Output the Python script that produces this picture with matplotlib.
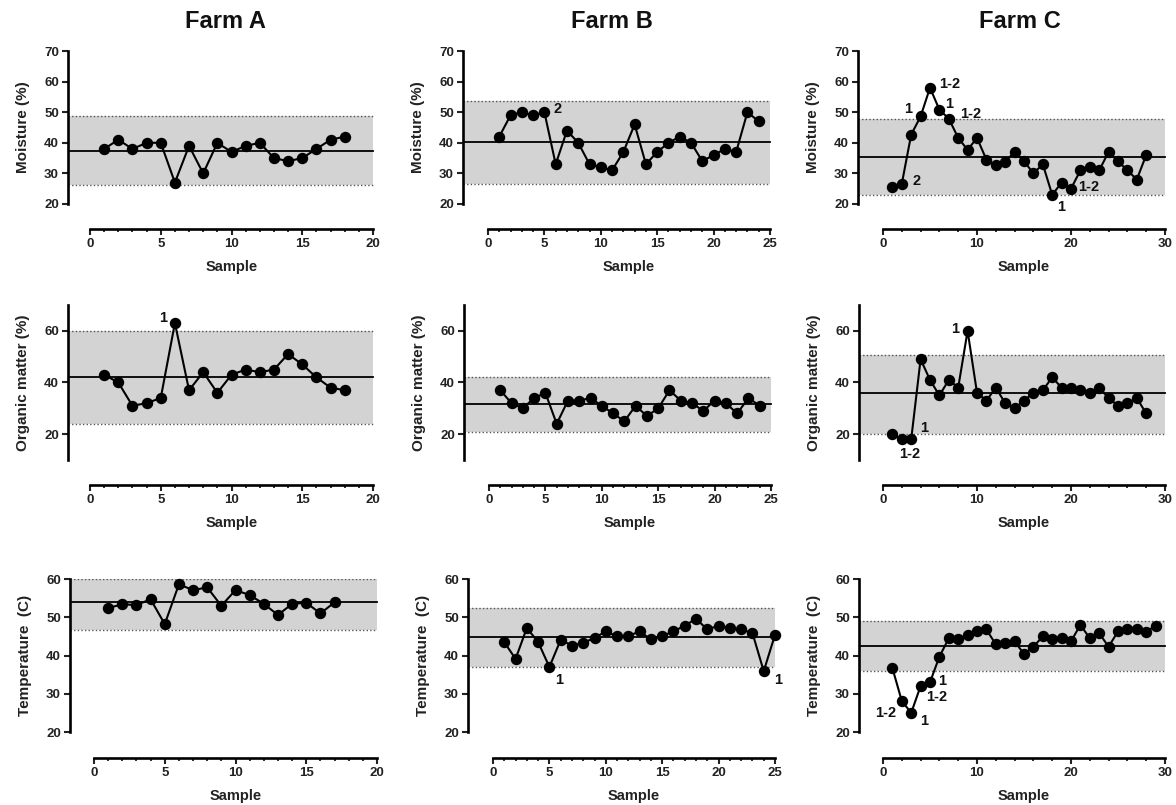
import matplotlib
matplotlib.use('Agg')
import matplotlib.pyplot as plt
from matplotlib.ticker import FixedLocator

plt.rcParams['font.family'] = ['Liberation Sans', 'DejaVu Sans']
plt.rcParams['font.weight'] = 'bold'

farms = ['Farm A', 'Farm B', 'Farm C']
ylabels = ['Moisture (%)', 'Organic matter (%)', 'Temperature  (C)']

# moisture (%)
moist_a = [38, 41, 38, 40, 40, 27, 39, 30, 40, 37, 39, 40, 35, 34, 35, 38, 41, 42]
moist_b = [42, 49, 50, 49, 50, 33, 44, 40, 33, 32, 31, 37, 46, 33, 37, 40, 42, 40,
           34, 36, 38, 37, 50, 47]
moist_c = [25.6, 26.6, 42.7, 48.6, 58, 50.8, 47.9, 41.6, 37.7, 41.6, 34.5, 32.7, 33.8,
           37, 34, 30, 33, 23, 27, 25, 31, 32, 31, 37, 34, 31, 28, 36]

# organic matter (%)
org_a = [43, 40, 31, 32, 34, 63, 37, 44, 36, 43, 45, 44, 45, 51, 47, 42, 38, 37]
org_b = [37, 32, 30, 34, 36, 24, 33, 33, 34, 31, 28, 25, 31, 27, 30, 37, 33, 32,
         29, 33, 32, 28, 34, 31]
org_c = [20, 18, 18, 49, 41, 35, 41, 38, 60, 36, 33, 38, 32, 30, 33, 36, 37, 42,
         38, 38, 37, 36, 38, 34, 31, 32, 34, 28]

# temperature (C)
temp_a = [52.4, 53.4, 53.2, 54.7, 48.2, 58.6, 57.1, 57.8, 53, 57.1, 55.8, 53.5,
          50.6, 53.5, 53.8, 51, 53.9]
temp_b = [43.5, 39.1, 47.2, 43.5, 37, 44.1, 42.6, 43.3, 44.6, 46.3, 45, 45.1, 46.3,
          44.2, 45.1, 46.3, 47.8, 49.6, 46.8, 47.8, 47.1, 46.8, 45.9, 35.9, 45.4]
temp_c = [36.7, 28.1, 25, 32, 33, 39.7, 44.5, 44.3, 45.4, 46.3, 46.8, 42.9, 43.2,
          43.7, 40.4, 42.3, 45, 44.2, 44.5, 43.7, 48, 44.5, 45.8, 42.3, 46.3, 46.8,
          46.8, 46.2, 47.8]

# control limits: (lower, mean, upper)
limits = [
    [(26.2, 37.4, 48.6), (26.6, 40.3, 53.7), (22.8, 35.4, 47.8)],
    [(23.9, 42.0, 60.0), (21.0, 31.8, 42.0), (20.0, 35.8, 50.5)],
    [(46.7, 54.1, 60.0), (37.1, 44.8, 52.3), (35.9, 42.4, 48.9)],
]

series = [[moist_a, moist_b, moist_c],
          [org_a, org_b, org_c],
          [temp_a, temp_b, temp_c]]

notes = {
    (0, 1): [(6.2, 51, '2')],
    (0, 2): [(2.7, 50.9, '1'), (7.05, 59.3, '1-2'), (7.05, 52.8, '1'),
             (9.3, 49.3, '1-2'), (3.6, 27.6, '2'), (21.9, 25.6, '1-2'),
             (19.0, 18.9, '1')],
    (1, 0): [(5.2, 64.8, '1')],
    (1, 2): [(7.66, 60.6, '1'), (4.36, 22.4, '1'), (2.8, 12.5, '1-2')],
    (2, 1): [(5.88, 33.6, '1'), (25.3, 33.6, '1')],
    (2, 2): [(0.32, 24.9, '1-2'), (4.36, 23.0, '1'), (5.7, 29.2, '1-2'),
             (6.24, 33.4, '1')],
}

x_end = [20, 25, 30]
x_major = [5, 5, 10]
x_minor = [1, 1, 2]
y_lims = [(20, 70), (10, 70), (20, 60)]
y_ticks = [range(20, 71, 10), [20, 40, 60], range(20, 61, 10)]

# pixel layout
W, H = 1176, 805
rows_px = [(51, 204, 25), (305, 460, 25), (579, 732, 26)]
cols_px = [
    [(68, 90, 373), (463, 488, 770), (858, 883, 1165)],
    [(68, 90, 373), (464, 489, 771), (859, 883, 1165)],
    [(70, 94, 377), (468, 493, 775), (859, 883, 1165)],
]
title_x = [225, 612, 1020]

fig = plt.figure(figsize=(W / 100, H / 100), dpi=100)

for r in range(3):
    top, bot, offs = rows_px[r]
    for c in range(3):
        left, x0, xe = cols_px[r][c]
        upp = x_end[c] / (xe - x0)
        xl = -(x0 - left) * upp
        xr = x_end[c] + 4 * upp
        wpx = xe + 4 - left
        hpx = bot - top
        ax = fig.add_axes([left / W, 1 - bot / H, wpx / W, hpx / H])
        ax.set_xlim(xl, xr)
        ax.set_ylim(*y_lims[r])

        lo, mu, hi = limits[r][c]
        ax.fill_between([xl, x_end[c]], lo, hi, color='#d3d3d3', lw=0, zorder=0)
        for v in (lo, hi):
            ax.plot([xl, x_end[c]], [v, v], ls=(0, (1, 1.6)), color='#555555',
                    lw=1.0, zorder=1)
        ax.plot([xl, x_end[c]], [mu, mu], color='black', lw=1.3, zorder=2)

        ys = series[r][c]
        xs = list(range(1, len(ys) + 1))
        ax.plot(xs, ys, '-o', color='black', ms=7.2, lw=1.5, clip_on=False, zorder=3)

        for tx, ty, s in notes.get((r, c), []):
            ax.text(tx, ty, s, ha='center', va='center', fontsize=10.5,
                    fontweight='bold', color='#111111', clip_on=False)

        for side in ('top', 'right'):
            ax.spines[side].set_visible(False)
        ax.spines['left'].set_linewidth(1.9)
        ax.spines['bottom'].set_linewidth(1.9)
        ax.spines['bottom'].set_position(('outward', offs * 0.72))
        ax.spines['bottom'].set_bounds(0, x_end[c])

        ax.set_xticks(range(0, x_end[c] + 1, x_major[c]))
        ax.xaxis.set_minor_locator(FixedLocator(range(0, x_end[c] + 1, x_minor[c])))
        ax.set_yticks(list(y_ticks[r]))
        ax.tick_params(axis='both', which='major', length=4, width=1.5,
                       labelsize=9.5, colors='#222222', pad=2.5)
        ax.tick_params(axis='x', which='minor', length=2.5, width=1.3,
                       colors='#222222')
        for lab in ax.get_xticklabels() + ax.get_yticklabels():
            lab.set_fontweight('bold')

        ax.set_ylabel(ylabels[r], fontsize=11, fontweight='bold', va='center',
                      color='#222222')
        ax.yaxis.set_label_coords(-45 / wpx, 0.5)
        xc = (x_end[c] / 2 - xl) / (xr - xl)
        ax.set_xlabel('Sample', fontsize=10.5, fontweight='bold', va='center',
                      color='#222222')
        ax.xaxis.set_label_coords(xc, -(offs + 38) / hpx)

for c in range(3):
    fig.text(title_x[c] / W, 1 - 22 / H, farms[c], ha='center', va='center',
             fontsize=17, fontweight='bold', color='#111111')

fig.savefig('out.png', dpi=100)
